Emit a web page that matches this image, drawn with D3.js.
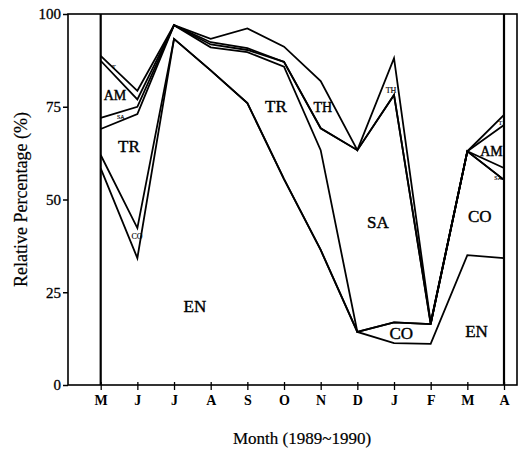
<!DOCTYPE html>
<html>
<head>
<meta charset="utf-8">
<script src="https://cdn.jsdelivr.net/npm/d3@7"></script>
<style>
  body { margin: 0; background: #fff; }
  svg text { font-family: "Liberation Serif", "Times New Roman", serif; fill: #000; }
</style>
</head>
<body>
<svg id="chart"></svg>
<script>
// months May 1989 .. Apr 1990
var months = ["May", "Jun", "Jul", "Aug", "Sep", "Oct", "Nov", "Dec", "Jan", "Feb", "Mar", "Apr"];
var monthTicks = ["M", "J", "J", "A", "S", "O", "N", "D", "J", "F", "M", "A"];
var yTicks = [0, 25, 50, 75, 100];

// stacked groups, bottom to top (relative %)
var species = ["EN", "CO", "TR", "SA", "AM", "TH"];
var enVals = [58.4, 34.2, 93.3, 84.8, 76.0, 55.5, 36.4, 14.3, 11.3, 11.1, 35.0, 34.2];
var coVals = [3.6, 8.1, 0, 0, 0, 0, 0, 0, 5.6, 5.3, 28.0, 21.1];
var trVals = [7.0, 30.7, 3.7, 6.2, 13.7, 30.3, 26.9, 0, 0, 0, 0, 0];
var saVals = [3.0, 2.0, 0, 0.8, 0.6, 1.3, 5.9, 49.0, 61.3, 0, 0, 3.2];
var amVals = [15.4, 2.0, 0, 0.6, 0.5, 0, 0, 0, 0, 0.2, 0, 11.6];
var thVals = [1.3, 2.3, 0, 0.9, 5.3, 4.1, 12.7, 0, 9.9, 0.2, 0, 2.7];

// region labels: text, month position (index), value
var regionLabels = [
    { t: "AM", i: 0.39, v: 77.9, s: 14 },
    { t: "SA", i: 0.55, v: 72.3, s: 6 },
    { t: "T",  i: 0.36, v: 85.6, s: 6 },
    { t: "TR", i: 0.77, v: 64.4, s: 17 },
    { t: "CO", i: 0.99, v: 40.0, s: 8 },
    { t: "EN", i: 2.57, v: 21.1, s: 17 },
    { t: "TR", i: 4.78, v: 75.2, s: 17 },
    { t: "TH", i: 6.06, v: 74.7, s: 14 },
    { t: "TH", i: 7.92, v: 79.5, s: 8 },
    { t: "SA", i: 7.56, v: 43.7, s: 17 },
    { t: "CO", i: 8.20, v: 13.9, s: 17 },
    { t: "CO", i: 10.34, v: 45.4, s: 17 },
    { t: "EN", i: 10.25, v: 14.4, s: 17 },
    { t: "AM", i: 10.66, v: 62.9, s: 14 },
    { t: "SA", i: 10.84, v: 55.9, s: 6 },
    { t: "T",  i: 10.9, v: 70.6, s: 6 }
];

var rows = months.map(function (m, i) {
    return { month: m, EN: enVals[i], CO: coVals[i], TR: trVals[i], SA: saVals[i], AM: amVals[i], TH: thVals[i] };
});

var totalWidth = 522, totalHeight = 458;
var frame = { left: 68, right: 517, top: 14, bottom: 385 };

var svg = d3.select("#chart")
    .attr("width", totalWidth)
    .attr("height", totalHeight);

var x = d3.scalePoint().domain(months).range([100.7, 504]);
var y = d3.scaleLinear().domain([0, 100]).range([frame.bottom, frame.top]);
var xi = d3.scaleLinear().domain([0, months.length - 1]).range(x.range());

var stacked = d3.stack().keys(species)(rows);

// frame
svg.append("rect")
    .attr("x", frame.left)
    .attr("y", frame.top)
    .attr("width", frame.right - frame.left)
    .attr("height", frame.bottom - frame.top)
    .attr("fill", "none")
    .attr("stroke", "#000")
    .attr("stroke-width", 1.6);

// axes
var yAxis = svg.append("g")
    .attr("transform", "translate(" + frame.left + ",0)")
    .call(d3.axisLeft(y).tickValues(yTicks).tickSize(5).tickPadding(2));
yAxis.select(".domain").remove();
yAxis.selectAll("line").attr("stroke-width", 1.5);
yAxis.selectAll("text").attr("font-size", 15).style("font-family", "Liberation Serif")
    .attr("stroke", "#000").attr("stroke-width", 0.3);

var xAxis = svg.append("g")
    .attr("transform", "translate(0," + frame.bottom + ")")
    .call(d3.axisBottom(x).tickFormat(function (d, i) { return monthTicks[i]; }).tickSize(5).tickPadding(5));
xAxis.select(".domain").remove();
xAxis.selectAll("line").attr("y1", -3).attr("stroke-width", 1.3);
xAxis.selectAll("text").attr("font-size", 14).attr("font-weight", "bold").style("font-family", "Liberation Serif");

// bounding verticals at first and last month
[months[0], months[months.length - 1]].forEach(function (m) {
    svg.append("line")
        .attr("x1", x(m)).attr("x2", x(m))
        .attr("y1", y(0)).attr("y2", y(100))
        .attr("stroke", "#000")
        .attr("stroke-width", 2.2);
});

// cumulative lines
var line = d3.line()
    .x(function (d) { return x(d.data.month); })
    .y(function (d) { return y(d[1]); });

svg.selectAll(".layer")
    .data(stacked)
    .enter()
    .append("path")
    .attr("class", "layer")
    .attr("d", line)
    .attr("fill", "none")
    .attr("stroke", "#000")
    .attr("stroke-width", 1.8)
    .attr("stroke-linejoin", "miter");

// region labels
svg.selectAll(".rlab")
    .data(regionLabels)
    .enter()
    .append("text")
    .attr("class", "rlab")
    .attr("x", function (d) { return xi(d.i); })
    .attr("y", function (d) { return y(d.v); })
    .attr("text-anchor", "middle")
    .attr("dominant-baseline", "central")
    .attr("font-size", function (d) { return d.s; })
    .attr("stroke", "#000")
    .attr("stroke-width", function (d) { return d.s > 10 ? 0.4 : 0.15; })
    .text(function (d) { return d.t; });

// axis titles
svg.append("text")
    .attr("transform", "translate(21," + ((frame.top + frame.bottom) / 2) + ") rotate(-90)")
    .attr("text-anchor", "middle")
    .attr("dominant-baseline", "central")
    .attr("font-size", 18)
    .attr("stroke", "#000")
    .attr("stroke-width", 0.2)
    .text("Relative Percentage (%)");

svg.append("text")
    .attr("x", 302)
    .attr("y", 438)
    .attr("text-anchor", "middle")
    .attr("dominant-baseline", "central")
    .attr("font-size", 17)
    .attr("stroke", "#000")
    .attr("stroke-width", 0.2)
    .text("Month (1989~1990)");
</script>
</body>
</html>
